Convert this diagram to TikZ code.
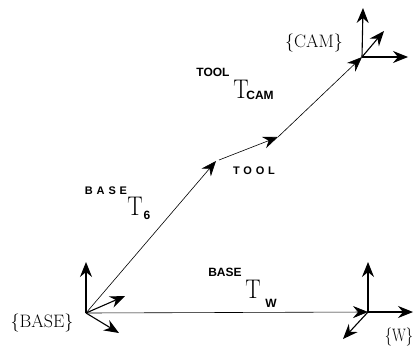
\documentclass[tikz,border=0pt]{standalone}
\usepackage{fontspec}
\usetikzlibrary{arrows.meta}
\newfontfamily\labelfont{Liberation Sans}
\newfontfamily\spacedfont{Liberation Sans}[LetterSpace=35]
\tikzstyle{axis} = [-{Stealth[length=15pt,width=12pt,inset=5pt]}, line width=1.1pt]
\tikzstyle{link} = [-{Stealth[length=15pt,width=12pt,inset=5pt]}, line width=0.6pt]
\tikzstyle{frame} = [inner sep=0pt, font=\fontsize{18}{18}\selectfont]
\tikzstyle{bigT} = [inner sep=0pt, xscale=0.85, font=\fontsize{27}{27}\selectfont]
\tikzstyle{tag} = [inner sep=0pt, font=\labelfont\bfseries\fontsize{12}{12}\selectfont]
\tikzstyle{spaced} = [inner sep=0pt, font=\spacedfont\bfseries\fontsize{11}{11}\selectfont]

\begin{document}
\begin{tikzpicture}[x=1pt, y=-1pt]
	\useasboundingbox (0,0) rectangle (414,348);
	% frame origins
	\coordinate (base) at (86,313);
	\coordinate (w) at (368,312);
	\coordinate (tool) at (216,161);
	\coordinate (toolstart) at (219,160);
	\coordinate (toolx) at (278,137);
	\coordinate (cam) at (362,57);
	% base frame
	\coordinate (basey) at (86,262);
	\coordinate (basex) at (125,296);
	\coordinate (basez) at (119,333);
	\draw[axis] (base) -- (basey);
	\draw[axis] (base) -- (basex);
	\draw[axis] (base) -- (basez);
	% w frame
	\coordinate (wy) at (368,262);
	\coordinate (wx) at (413,312);
	\coordinate (wz) at (343,339);
	\draw[axis] (w) -- (wy);
	\draw[axis] (w) -- (wx);
	\draw[axis] (w) -- (wz);
	% cam frame
	\coordinate (camy) at (363,8);
	\coordinate (camx) at (408,57);
	\coordinate (camz) at (384,31);
	\draw[axis] (cam) -- (camy);
	\draw[axis] (cam) -- (camx);
	\draw[axis] (cam) -- (camz);
	% transforms
	\draw[link] (base) -- (w);
	\draw[link] (base) -- (tool);
	\draw[link] (toolstart) -- (toolx);
	\draw[link] (toolx) -- (cam);
	% labels
	\node[frame] (baselbl) at (42,323) {\{BASE\}};
	\node[frame, xscale=0.8] (wlbl) at (399,337) {\{W\}};
	\node[frame] (camlbl) at (314,43) {\{CAM\}};
	\node[spaced] (toollbl) at (254,171) {TOOL};
	\node[spaced] (t6sup) at (106,191) {BASE};
	\node[bigT] (t6) at (135,206) {T};
	\node[tag] (t6sub) at (147,215) {6};
	\node[tag] (twsup) at (225,272) {BASE};
	\node[bigT] (tw) at (253,289) {T};
	\node[tag] (twsub) at (271,303) {W};
	\node[tag] (tcsup) at (213,72) {TOOL};
	\node[bigT] (tc) at (241,89) {T};
	\node[tag] (tcsub) at (260,95) {CAM};
\end{tikzpicture}
\end{document}
